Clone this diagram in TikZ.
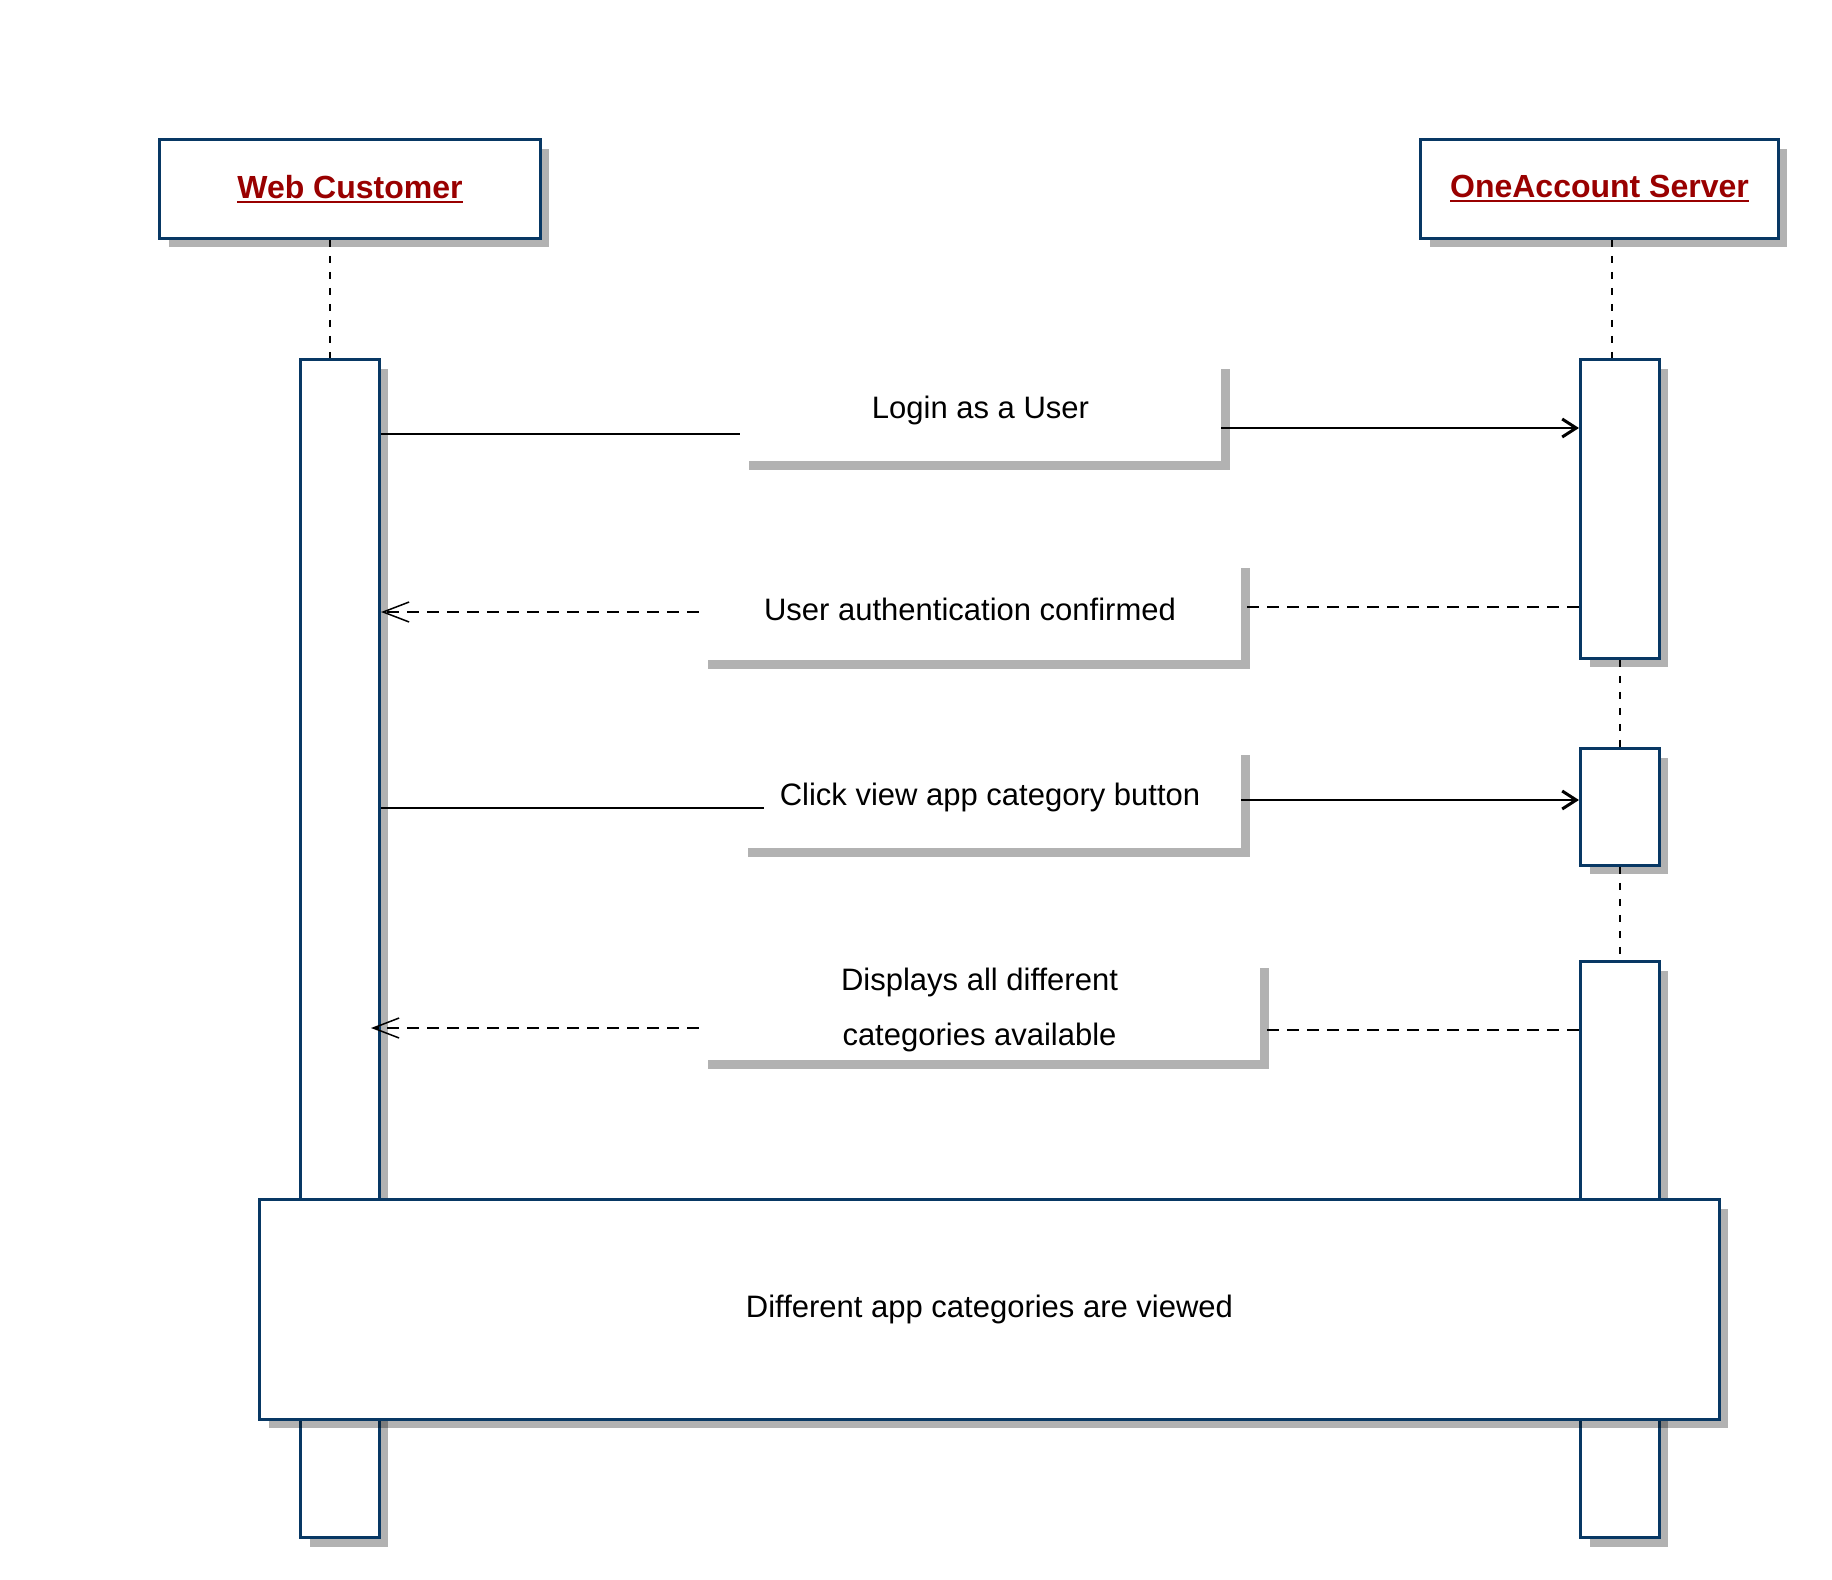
\documentclass[tikz,border=0pt]{standalone}
\usepackage{fontspec}
\setmainfont{Liberation Sans}
\usetikzlibrary{arrows.meta,shadows}

\definecolor{lineblue}{RGB}{8,56,100}
\definecolor{namered}{RGB}{153,0,0}
\newcommand{\objname}[1]{\setbox0=\hbox{#1}\rlap{\rule[-2.2pt]{\wd0}{1.1pt}}\box0}

\begin{document}
\begin{tikzpicture}[x=0.5pt,y=-0.5pt,
    boxshadow/.style={drop shadow={shadow xshift=4.5pt,shadow yshift=-4.5pt,fill=black,opacity=.3}},
    head/.style={draw=lineblue,line width=1.65pt,fill=white,inner sep=0pt,boxshadow,
        text=namered,font=\fontsize{16pt}{19pt}\selectfont\bfseries},
    act/.style={draw=lineblue,line width=1.65pt,fill=white,inner sep=0pt,minimum width=39.4pt,boxshadow},
    lbl/.style={fill=white,inner sep=0pt,boxshadow,align=center,font=\fontsize{15.5pt}{27.5pt}\selectfont},
    lifeline/.style={black,line width=0.7pt,dash pattern=on 3.5pt off 4.5pt},
    call/.style={black,line width=0.9pt},
    callarrow/.style={call,-{Straight Barb[length=7pt,width=9pt,line width=1.5pt]}},
    reply/.style={black,line width=0.75pt,dash pattern=on 6pt off 4pt},
    replyarrow/.style={reply,-{Straight Barb[length=13pt,width=10pt]}}]
                \fill[white] (0,0) rectangle (1832,1580); % background
                \useasboundingbox (0,0) rectangle (1832,1580);
                \coordinate (wcL) at (330,0);
                \coordinate (srvL) at (1612,0);
                \coordinate (m1a) at (0,434);
                \coordinate (m1b) at (0,428);
                \coordinate (m2a) at (0,612);
                \coordinate (m2b) at (0,607);
                \coordinate (m3a) at (0,808);
                \coordinate (m3b) at (0,800);
                \coordinate (m4a) at (0,1028);
                \coordinate (m4b) at (0,1030);

                % objects
                \node[head,minimum width=190.3pt,minimum height=49.3pt] (wc) at (350,189) {\objname{Web Customer}};
                \node[head,minimum width=178.8pt,minimum height=49.3pt] (srv) at (1599.5,189) {\objname{OneAccount Server}};

                % activations
                \node[act,minimum height=589pt] (wcAct) at (340,948.5) {};
                \node[act,minimum height=149.3pt] (srvAct1) at (1620,509) {};
                \node[act,minimum height=58.3pt] (srvAct2) at (1620,807) {};
                \node[act,minimum height=288pt] (srvAct3) at (1620,1249.5) {};

                \draw[lifeline] (wc.south -| wcL) -- (wcAct.north -| wcL);
                \draw[lifeline] (srv.south -| srvL) -- (srvAct1.north -| srvL);
                \draw[lifeline] (srvAct1.south) -- (srvAct2.north);
                \draw[lifeline] (srvAct2.south) -- (srvAct3.north);

                % message labels
                \node[lbl,minimum width=240.5pt,minimum height=50.5pt] (lbl1) at (980.5,410.5) {Login as a User};
                \node[lbl,minimum width=271pt,minimum height=50.5pt] (lbl2) at (970,609.5) {User authentication confirmed};
                \node[lbl,minimum width=251pt,minimum height=51pt] (lbl3) at (990,797) {Click view app category button};
                \node[lbl,minimum width=280.5pt,minimum height=50.5pt] (lbl4) at (979.5,1009.5) {Displays all different\\categories available};

                % messages
                \draw[call] (wcAct.east |- m1a) -- (lbl1.west |- m1a);
                \draw[callarrow] (lbl1.east |- m1b) -- (srvAct1.west |- m1b);
                \draw[reply] (srvAct1.west |- m2b) -- (lbl2.east |- m2b);
                \draw[replyarrow] (lbl2.west |- m2a) -- (wcAct.east |- m2a);
                \draw[call] (wcAct.east |- m3a) -- ([xshift=12.5pt]lbl3.west |- m3a);
                \draw[callarrow] (lbl3.east |- m3b) -- (srvAct2.west |- m3b);
                \draw[reply] (srvAct3.west |- m4b) -- (lbl4.east |- m4b);
                \draw[replyarrow] (lbl4.west |- m4a) -- ([xshift=-5pt]wcAct.east |- m4a);

                % state
                \node[head,text=black,font=\fontsize{15.5pt}{19pt}\selectfont,minimum width=729.8pt,minimum height=109.8pt] (viewed) at (989.5,1309.5) {Different app categories are viewed};
\end{tikzpicture}
\end{document}
